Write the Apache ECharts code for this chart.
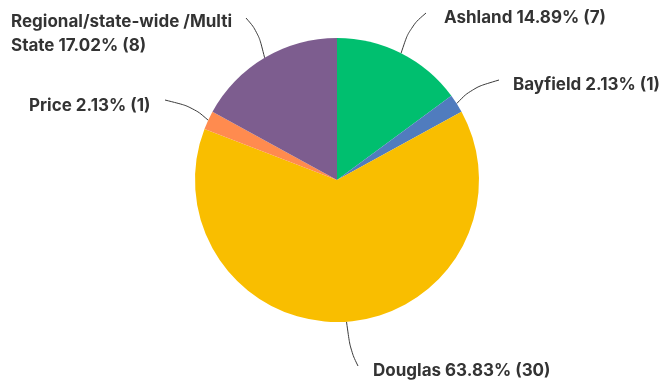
<!DOCTYPE html>
<html><head><meta charset="utf-8">
<script src="https://cdn.jsdelivr.net/npm/echarts@6/dist/echarts.min.js"></script>
<style>html,body{margin:0;padding:0;background:#fff}#c{width:664px;height:381px}</style>
</head><body><div id="c"></div>
<script>
const categories = ['Ashland', 'Bayfield', 'Douglas', 'Price', 'Regional/state-wide /Multi State'];
const counts = [7, 1, 30, 1, 8];
const colors = ['#00BF6F', '#507CBE', '#F9BE00', '#FF8B4F', '#7D5D8F'];
// label placement (left x, middle y) in pixels
const labelSpots = [[444, 18], [513, 85], [373, 371], [29, 106], [11, 34]];
// leader line end points
const lineEnds = [[426, 13], [499, 80], [358, 366], [165, 100], [246, 18]];

const chart = echarts.init(document.getElementById('c'));
chart.setOption({
  animation: false,
  series: [{
    type: 'pie',
    center: [337, 180],
    radius: 142,
    startAngle: 90,
    clockwise: true,
    data: categories.map((n, i) => ({
      name: n, value: counts[i], itemStyle: { color: colors[i] },
      label: i === 4 ? { width: 245, overflow: 'break' } : {}
    })),
    label: {
      show: true,
      formatter: '{b} {d}% ({c})',
      fontFamily: 'Inter',
      fontWeight: 700,
      fontSize: 17,
      lineHeight: 24,
      color: '#333333'
    },
    labelLine: { show: true, length: 20, length2: 20, smooth: 0.4, lineStyle: { color: '#3a3a3a', width: 1 } },
    labelLayout: function (p) {
      const s = labelSpots[p.dataIndex];
      const e = lineEnds[p.dataIndex];
      const st = p.labelLinePoints[0];
      const mid = [st[0] + (e[0] - st[0]) * 0.35, st[1] + (e[1] - st[1]) * 0.65];
      return { x: s[0], y: s[1], align: 'left', verticalAlign: 'middle', labelLinePoints: [st, mid, e] };
    }
  }]
});
</script></body></html>
